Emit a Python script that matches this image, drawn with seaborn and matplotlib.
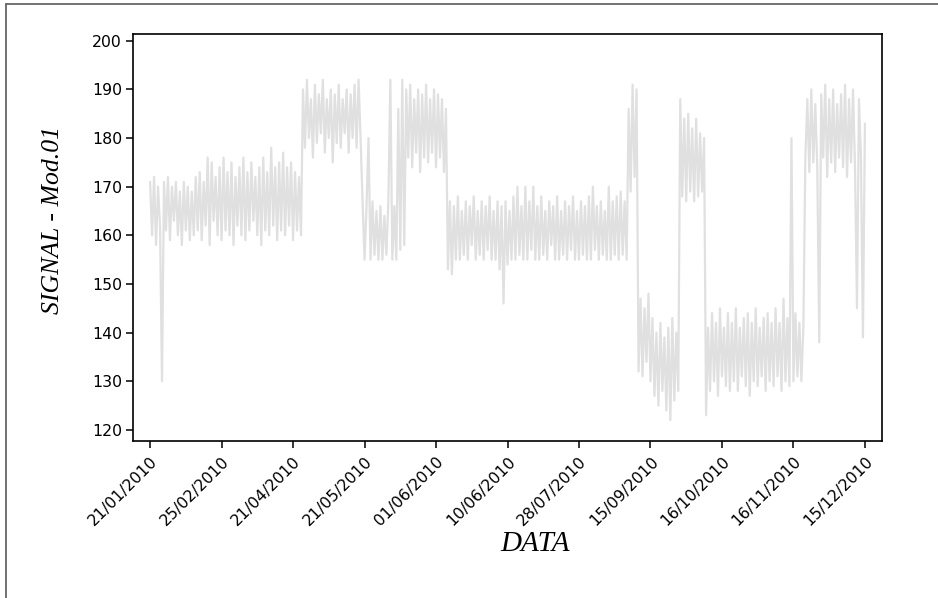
import numpy as np
import pandas as pd
import seaborn as sns
import matplotlib.pyplot as plt
from matplotlib.lines import Line2D

# ================= DATA (hi/lo alternating) =================
seg_a1 = [171, 160, 172, 158, 170, 162, 130, 171, 161, 172, 159, 170, 163, 171, 160,
          169, 158, 171, 161, 170, 159, 169]
seg_a2 = [160, 172, 161, 173, 159, 171, 162, 176, 158, 175, 163, 172, 160, 174, 159,
          176, 161, 173, 160, 175, 158, 172, 162, 174, 160, 176, 159, 173, 161, 175,
          163, 172, 160, 174, 158, 176, 161, 173, 160, 178, 162, 174, 159, 175, 161,
          177, 160, 174, 162, 175, 159, 173, 161, 172, 160]
seg_b = [190, 178, 192, 180, 188, 176, 191, 179, 189, 181, 192, 177, 188, 180, 190,
         175, 189, 179, 191, 178, 188, 181, 190, 177, 189, 180, 191, 178, 192, 180]
seg_c = [167, 155, 166, 180, 155, 167, 156, 165, 155, 166, 155, 164, 156, 167, 192,
         155, 166]
seg_d = [155, 186, 157, 192, 158, 190, 176, 191, 174, 188, 177, 190, 173, 189, 176,
         191, 175, 188, 177, 190, 174, 189, 176, 188, 173, 186]
seg_e = [153, 167, 152, 166, 155, 168, 155, 165, 156, 167, 155, 166, 158, 168, 155,
         165, 156, 167, 155, 166, 157, 168, 155, 165, 155, 167, 153, 166, 146, 167,
         154, 165, 155, 168, 155, 170, 156, 166, 155, 170, 155, 167, 157, 170, 155,
         166, 155, 168, 156, 165, 155, 167, 158, 166, 155, 168, 155, 165, 156, 167,
         155, 166, 157, 168, 155, 165, 155, 167, 156, 166, 155, 168, 155, 170, 157,
         166, 155, 167, 156, 165, 155, 170, 155, 167, 156, 168, 155, 169, 156, 167,
         155]
seg_f = [186, 169, 191, 172, 190]
seg_g = [132, 147, 131, 145, 134, 148, 130, 143, 127, 140, 125, 142, 128, 139, 124,
         141, 122, 143, 126, 140, 128]
seg_h = [188, 168, 184, 167, 185, 169, 182, 167, 184, 168, 181, 169, 180]
seg_i = [123, 141, 128, 144, 130, 142, 127, 145, 131, 141, 129, 144, 128, 142, 130,
         145, 128, 141, 131, 143, 129, 144, 127, 142, 130, 145, 129, 141, 131, 143,
         128, 144, 130, 142, 129, 145, 131, 142, 128, 147, 130, 143, 129, 180, 130,
         144, 131, 142, 130, 141]
seg_j = [176, 188, 173, 190, 175, 187, 174, 138, 189, 176, 191, 172, 188, 175, 190,
         173, 187, 176, 189, 174, 191, 172, 188, 175, 190, 174, 145, 188, 176, 139,
         183]

date_labels = ["21/01/2010", "25/02/2010", "21/04/2010", "21/05/2010", "01/06/2010",
               "10/06/2010", "28/07/2010", "15/09/2010", "16/10/2010", "16/11/2010",
               "15/12/2010"]

signal = (seg_a1 + seg_a2 + seg_b + seg_c + seg_d + seg_e + seg_f + seg_g + seg_h
          + seg_i + seg_j)
df = pd.DataFrame({"idx": np.arange(len(signal)), "signal": signal})
tick_step = 36

# ================= PLOT =================
sns.set_style("ticks")
plt.rcParams["font.family"] = ["DejaVu Sans"]

fig = plt.figure(figsize=(9.38, 5.98), dpi=100)
ax = fig.add_axes([0.1418, 0.2625, 0.7985, 0.6806])

sns.lineplot(data=df, x="idx", y="signal", color="#e0e0e0", lw=1.6, ax=ax)

ax.set_xlim(-8.6, len(signal) - 1 + 8.6)
ax.set_ylim(117.7, 201.4)
ax.set_yticks(np.arange(120, 201, 10))
ax.set_xticks(np.arange(len(date_labels)) * tick_step)
ax.set_xticklabels(date_labels, rotation=45, ha="right", rotation_mode="anchor")

for s in ax.spines.values():
    s.set_linewidth(1.2)
    s.set_color("black")
ax.tick_params(axis="both", length=5, width=1.1, labelsize=11.3, color="black",
               labelcolor="black")
ax.tick_params(axis="y", pad=3)
ax.tick_params(axis="x", pad=4)

ax.set_xlabel("DATA", family="Liberation Serif", style="italic", fontsize=21,
              color="black")
ax.xaxis.set_label_coords(0.537, -0.22)
ax.set_ylabel("SIGNAL - Mod.01", family="Liberation Serif", style="italic", fontsize=18.5,
              color="black")
ax.yaxis.set_label_coords(-0.092, 0.543)

# frame lines around the figure (top and left only)
fig.add_artist(Line2D([0.0064, 1.0], [0.9933, 0.9933], transform=fig.transFigure,
                      color="#5a5a5a", lw=1.2))
fig.add_artist(Line2D([0.0064, 0.0064], [0.0, 0.9933], transform=fig.transFigure,
                      color="#5a5a5a", lw=1.2))

fig.savefig("out.png", dpi=100)
